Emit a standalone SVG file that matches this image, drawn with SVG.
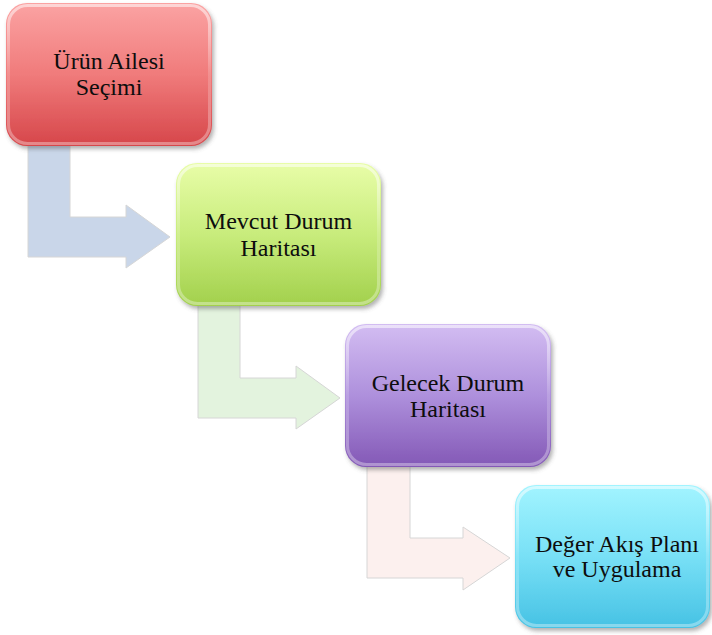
<svg xmlns="http://www.w3.org/2000/svg" width="712" height="635" viewBox="0 0 712 635">
  <defs>
    <filter id="shadow" x="-10%" y="-10%" width="125%" height="130%">
      <feDropShadow dx="2" dy="3" stdDeviation="2" flood-color="#555" flood-opacity="0.45"/>
    </filter>
    <linearGradient id="gRed" x1="0" y1="0" x2="0" y2="1">
      <stop offset="0" stop-color="#fba3a3"/>
      <stop offset="0.5" stop-color="#f07b7b"/>
      <stop offset="1" stop-color="#d6464a"/>
    </linearGradient>
    <linearGradient id="gGreen" x1="0" y1="0" x2="0" y2="1">
      <stop offset="0" stop-color="#e8fda8"/>
      <stop offset="0.5" stop-color="#c8ec7c"/>
      <stop offset="1" stop-color="#a2d04c"/>
    </linearGradient>
    <linearGradient id="gPurple" x1="0" y1="0" x2="0" y2="1">
      <stop offset="0" stop-color="#d3bdf2"/>
      <stop offset="0.5" stop-color="#ae90dc"/>
      <stop offset="1" stop-color="#8358b6"/>
    </linearGradient>
    <linearGradient id="gCyan" x1="0" y1="0" x2="0" y2="1">
      <stop offset="0" stop-color="#a2f4ff"/>
      <stop offset="0.5" stop-color="#78e0f6"/>
      <stop offset="1" stop-color="#46c2e4"/>
    </linearGradient>
    <linearGradient id="gloss" x1="0" y1="0" x2="0" y2="1">
      <stop offset="0" stop-color="#fff" stop-opacity="0.55"/>
      <stop offset="0.5" stop-color="#fff" stop-opacity="0.15"/>
      <stop offset="1" stop-color="#fff" stop-opacity="0.35"/>
    </linearGradient>
  </defs>
  <style>
    .arrow { stroke: #d6d6d6; stroke-width: 1; stroke-linejoin: miter; }
    .box { filter: url(#shadow); }
    .rim { fill: none; stroke: url(#gloss); stroke-width: 3; }
    .label { font-size: 24px; fill: #0d0d0d; text-anchor: middle; }
  </style>

  <g id="connectors">
    <path class="arrow" fill="#c9d6e9" d="M28,140 L70,140 L70,217 L126,217 L126,205 L170,237 L126,268 L126,257 L28,257 Z"/>
    <path class="arrow" fill="#e3f3de" d="M198,300 L240,300 L240,378 L296,378 L296,366 L340,398 L296,429 L296,418 L198,418 Z"/>
    <path class="arrow" fill="#fcf0ee" d="M367,461 L410,461 L410,538 L463,538 L463,527 L510,558 L463,590 L463,578 L367,578 Z"/>
  </g>

  <g font-family="Liberation Serif, Times New Roman, serif">
    <g id="node-urun">
      <rect class="box" x="6" y="3" width="206" height="143" rx="21" fill="url(#gRed)"/>
      <rect class="rim" x="8.5" y="5.5" width="201" height="138" rx="19"/>
      <text class="label" x="109" y="69">Ürün Ailesi</text>
      <text class="label" x="109" y="95">Seçimi</text>
    </g>

    <g id="node-mevcut">
      <rect class="box" x="176" y="163" width="205" height="143" rx="21" fill="url(#gGreen)"/>
      <rect class="rim" x="178.5" y="165.5" width="200" height="138" rx="19"/>
      <text class="label" x="278.5" y="229">Mevcut Durum</text>
      <text class="label" x="278.5" y="256">Haritası</text>
    </g>

    <g id="node-gelecek">
      <rect class="box" x="345" y="324" width="206" height="143" rx="21" fill="url(#gPurple)"/>
      <rect class="rim" x="347.5" y="326.5" width="201" height="138" rx="19"/>
      <text class="label" x="448" y="391">Gelecek Durum</text>
      <text class="label" x="448" y="417">Haritası</text>
    </g>

    <g id="node-deger">
      <rect class="box" x="515" y="485" width="195" height="143" rx="21" fill="url(#gCyan)"/>
      <rect class="rim" x="517.5" y="487.5" width="190" height="138" rx="19"/>
      <text class="label" x="617" y="552">Değer Akış Planı</text>
      <text class="label" x="617" y="577">ve Uygulama</text>
    </g>
  </g>
</svg>
